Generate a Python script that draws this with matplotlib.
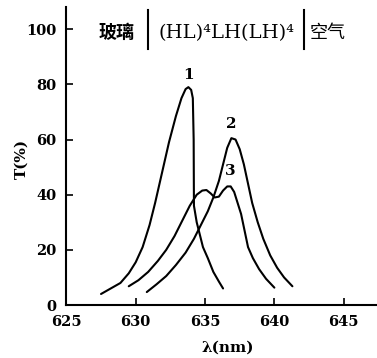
import matplotlib
matplotlib.use('Agg')
import matplotlib.pyplot as plt
from matplotlib.lines import Line2D

plt.rcParams['font.family'] = ['DejaVu Serif', 'Noto Sans CJK SC']
plt.rcParams['font.weight'] = 'bold'

# transmission curves (wavelength nm, T %)
wl_1 = [627.5, 628.2, 628.9, 629.5, 630.0, 630.5, 631.0, 631.4, 631.9, 632.4,
        632.9, 633.3, 633.6, 633.8, 634.0, 634.12, 634.18, 634.2, 634.4, 634.6,
        634.85, 635.2, 635.6, 636.0, 636.3]
T_1 = [4.0, 6.0, 8.0, 11.5, 15.5, 21.0, 29.0, 37.0, 48.0, 59.0,
       68.5, 75.0, 78.3, 79.0, 78.0, 75.0, 60.0, 36.0, 30.0, 26.0,
       21.0, 17.0, 12.0, 8.5, 6.0]

wl_2 = [630.8, 631.5, 632.2, 632.9, 633.6, 634.2, 634.7, 635.2, 635.6, 636.0,
        636.3, 636.6, 636.9, 637.2, 637.5, 637.8, 638.1, 638.4, 638.8, 639.2,
        639.7, 640.2, 640.7, 641.3]
T_2 = [4.7, 7.5, 10.5, 14.5, 19.0, 24.0, 29.0, 34.0, 39.0, 45.0,
       51.0, 57.0, 60.5, 60.0, 56.5, 51.0, 44.0, 37.0, 30.0, 24.0,
       18.0, 13.5, 10.0, 6.8]

wl_3 = [629.5, 630.2, 630.9, 631.6, 632.2, 632.8, 633.4, 633.9, 634.4, 634.8,
        635.1, 635.4, 635.7, 636.0, 636.3, 636.6, 636.85, 637.1, 637.35, 637.6,
        637.85, 638.1, 638.45, 638.9, 639.4, 640.0]
T_3 = [6.8, 9.0, 12.0, 16.0, 20.0, 25.0, 31.0, 36.0, 40.0, 41.5,
       41.7, 40.5, 39.0, 39.3, 41.5, 43.0, 43.0, 41.0, 37.0, 33.0,
       27.0, 21.0, 17.0, 13.0, 9.5, 6.3]

curve_labels = ['1', '2', '3']
label_pos = [(633.8, 83.5), (636.9, 65.5), (636.8, 48.5)]

x_ticks = [625, 630, 635, 640, 645]
y_ticks = [0, 20, 40, 60, 80, 100]

fig = plt.figure(figsize=(3.77, 3.58), dpi=100)
ax = fig.add_axes([0.176, 0.148, 0.824, 0.832])

for wl, T in [(wl_1, T_1), (wl_2, T_2), (wl_3, T_3)]:
    ax.plot(wl, T, color='black', lw=1.5, solid_capstyle='round')

for txt, (xl, yl) in zip(curve_labels, label_pos):
    ax.text(xl, yl, txt, ha='center', va='center', fontsize=11, fontweight='bold')

ax.set_xlim(625, 647.4)
ax.set_ylim(0, 108)
ax.set_xticks(x_ticks)
ax.set_yticks(y_ticks)
ax.tick_params(direction='in', length=5, width=1.2, labelsize=10.5)
ax.tick_params(axis='x', pad=7)
ax.tick_params(axis='y', pad=7)
for s in ['top', 'right']:
    ax.spines[s].set_visible(False)
for s in ['left', 'bottom']:
    ax.spines[s].set_linewidth(1.5)

# stack description on top
fig.text(0.308, 0.908, '玻璃', ha='center', va='center', fontsize=13,
         family=['Noto Sans CJK SC'], fontweight='bold')
fig.text(0.600, 0.908, '(HL)⁴LH(LH)⁴', ha='center', va='center', fontsize=14,
         fontweight='normal')
fig.text(0.870, 0.908, '空气', ha='center', va='center', fontsize=13,
         family=['Noto Sans CJK SC'], fontweight='normal')
for xb in [0.393, 0.806]:
    fig.add_artist(Line2D([xb, xb], [0.862, 0.972], color='black', lw=1.5))

fig.text(0.058, 0.555, 'T(%)', rotation=90, ha='center', va='center',
         fontsize=11, fontweight='bold')
fig.text(0.605, 0.028, 'λ(nm)', ha='center', va='center', fontsize=11,
         fontweight='bold')

fig.savefig('out.png', dpi=100)
